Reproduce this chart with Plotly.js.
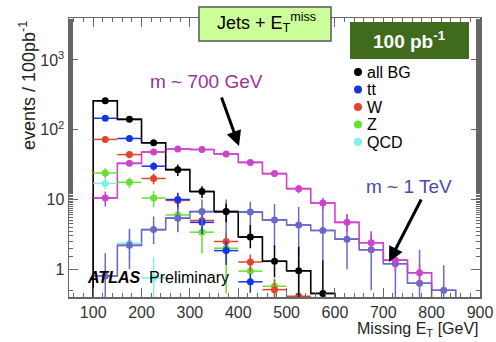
<!DOCTYPE html>
<html>
<head>
<meta charset="utf-8">
<script src="https://cdn.plot.ly/plotly-3.0.1.min.js"></script>
<style>html,body{margin:0;padding:0;background:#fff}#chart{width:496px;height:342px}</style>
</head>
<body>
<div id="chart"></div>
<script>
// ---- data ----
const binWidth = 50;
const binCenters = [125,175,225,275,325,375,425,475,525,575,625,675,725,775,825];

const allBG     = [260,141,65,26.8,13,6.7,2.9,1.3,0.95,0.45];
const allBGUp   = [15,10,5,5,2.5,2,1.4,0.9,1.15,0.9];
const allBGDown = [15,10,5,5,2.5,2,0.9,0.53,0.55,0.3];

const ttbar     = [146,75,30,10,4.7,1.85,0.66];
const ttbarErr  = [8,6,4,2.5,1.5,0.7,0.2];

const wjets     = [72.7,44,20,9.7,5,2.5,1.27,0.51,0.41];
const wjetsUp   = [6,5,3.5,2.5,1.3,0.7,0.35,0.2,0.94];
const wjetsDown = [6,5,3.5,2.5,1.3,0.7,0.35,0.2,0.4];

const zjets     = [24,17.6,10.5,6.0,3.4,2.0,0.94,0.57];
const zjetsErr  = [4,3,2.8,2.5,1.7,1.55,0.3,0.19];

const qcd       = [17,2.35,0.75];
const qcdUp     = [3,1.1,0.75];
const qcdDown   = [3,1.0,0.5];

const sig700     = [10.5,33,48,53,52,45,34,23.5,14.3,8.9,4.7,2.4,1.35,0.89];
const sig700Up   = [2.5,3,3,3,3,3,3,2.5,2,1.7,1.3,0.8,0.4,0.3];
const sig700Down = [2.6,3,3,3,3,3,3,2.5,2,1.8,1.2,0.7,0.4,0.25];

const sig1000     = [0.8,2.2,3.7,5.4,6.7,6.7,6.6,5.1,4.3,3.6,2.7,1.9,1.2,0.63,0.5];
const sig1000Up   = [0.9,1.6,2.0,2.5,3.3,3.3,2.7,3.5,3.5,4.3,3.5,1.6,0.6,1.27,0.64];
const sig1000Down = [0.5,1.2,1.4,2.0,2.6,3.9,3.3,3.0,2.8,2.25,1.7,1.4,0.8,0.6,0.45];

const legendNames = ['all BG','tt','W','Z','QCD'];
const xTickVals = [100,200,300,400,500,600,700,800,900];
const yTickVals = [1,10,100,1000];
const yTickText = ['1','10','10<sup>2</sup>','10<sup>3</sup>'];

// ---- styles ----
const C = {bg:'#000000', tt:'#1434e6', w:'#e0442c', z:'#66e033', qcd:'#7eeeee',
           s700:'#cc44cc', s1000:'#6a6ac4'};
const FONT = 'Liberation Sans, Arial, sans-serif';

function centers(n){ return binCenters.slice(0,n); }
function stepTrace(vals, color){
  const x=[], y=[], h=binWidth/2, cs=centers(vals.length), floor=0.01;
  x.push(cs[0]-h); y.push(floor);
  cs.forEach((c,i)=>{ x.push(c-h, c+h); y.push(vals[i], vals[i]); });
  x.push(cs[cs.length-1]+h); y.push(floor);
  return {x, y, type:'scatter', mode:'lines', line:{color, width:1.6}, showlegend:false, hoverinfo:'skip'};
}
function pts(vals, up, down, color, size){
  return {x:centers(vals.length), y:vals, type:'scatter', mode:'markers',
    marker:{color, size:size||7},
    error_y:{type:'data', symmetric:false, array:up, arrayminus:down, color, thickness:1.5, width:0},
    error_x:{type:'constant', value:binWidth/2, color, thickness:1.5, width:0},
    showlegend:false};
}

const traces = [
  stepTrace(sig1000, C.s1000),
  stepTrace(sig700, C.s700),
  stepTrace(allBG, C.bg),
  pts(qcd, qcdUp, qcdDown, C.qcd),
  pts(zjets, zjetsErr, zjetsErr, C.z),
  pts(wjets, wjetsUp, wjetsDown, C.w),
  pts(ttbar, ttbarErr, ttbarErr, C.tt),
  pts(sig1000, sig1000Up, sig1000Down, C.s1000),
  pts(sig700, sig700Up, sig700Down, C.s700),
  pts(allBG, allBGUp, allBGDown, C.bg),
];

// layout helpers: pixel -> paper
const L=69, R=480, T=18, B=297;
const px = v => (v-L)/(R-L);
const py = v => (B-v)/(B-T);

const legColors = [C.bg, C.tt, C.w, C.z, C.qcd];
const legRows = [72, 89.5, 107, 124.5, 142];

const shapes = [
  {type:'rect', xref:'paper', yref:'paper', x0:px(199), x1:px(331), y0:py(41), y1:py(7),
   fillcolor:'#ccff99', line:{color:'#555555', width:1.5}, layer:'above'},
  {type:'rect', xref:'paper', yref:'paper', x0:px(350), x1:px(469), y0:py(59), y1:py(22),
   fillcolor:'#416b1c', line:{width:0}, layer:'above'},
];
legRows.forEach((r,i)=>{
  shapes.push({type:'circle', xref:'paper', yref:'paper',
    x0:px(354), x1:px(362), y0:py(r+4), y1:py(r-4),
    fillcolor:legColors[i], line:{width:0}, layer:'above'});
});

function txt(text, x, y, size, color, opts){
  return Object.assign({text, xref:'paper', yref:'paper', x:px(x), y:py(y),
    xanchor:'center', yanchor:'middle', showarrow:false,
    font:{family:FONT, size, color}}, opts||{});
}

const annotations = [
  txt('Jets + E<sub>T</sub><sup>miss</sup>', 266, 23, 18, '#000'),
  txt('<b>100 pb<sup>-1</sup></b>', 409.5, 40, 19, '#ffffff'),
  txt('m ~ 700 GeV', 206, 81.7, 19, '#993399'),
  txt('m ~ 1 TeV', 408.5, 186.7, 19, '#4a4aa8'),
  {text:'', xref:'paper', yref:'paper', x:px(239), y:py(146), axref:'pixel', ayref:'pixel',
   ax:-18, ay:-50, showarrow:true, arrowhead:2, arrowsize:1, arrowwidth:3, arrowcolor:'#000'},
  {text:'', xref:'paper', yref:'paper', x:px(389), y:py(262), axref:'pixel', ayref:'pixel',
   ax:33, ay:-64, showarrow:true, arrowhead:2, arrowsize:1, arrowwidth:3, arrowcolor:'#000'},
  txt('<b><i>ATLAS</i></b>  Preliminary', 85, 277.3, 16, '#000', {xanchor:'left'}),
  txt('events / 100pb<sup>-1</sup>', 28, 86, 18, '#222', {textangle:-90}),
  txt('Missing E<sub>T</sub> [GeV]', 481, 329, 16, '#222', {xanchor:'right'}),
];
legendNames.forEach((n,i)=>{
  annotations.push(txt(n, 365, legRows[i], 16, '#000', {xanchor:'left'}));
});

const layout = {
  width:496, height:342,
  margin:{l:L, r:496-R, t:T, b:342-B},
  paper_bgcolor:'#ffffff', plot_bgcolor:'#ffffff',
  showlegend:false,
  xaxis:{range:[50,900], tickvals:xTickVals, ticks:'inside', ticklen:9, tickcolor:'#666',
    showline:true, linecolor:'#666', linewidth:1.5, mirror:'ticks', showgrid:false, zeroline:false,
    tickfont:{family:FONT, size:16, color:'#333'},
    minor:{dtick:20, ticks:'inside', ticklen:4, tickcolor:'#666', showgrid:false}},
  yaxis:{type:'log', range:[Math.log10(0.4), Math.log10(4000)], tickvals:yTickVals, ticktext:yTickText,
    ticks:'inside', ticklen:9, tickcolor:'#666',
    showline:true, linecolor:'#666', linewidth:1.5, mirror:'ticks', showgrid:false, zeroline:false,
    tickfont:{family:FONT, size:16, color:'#333'},
    minor:{ticks:'inside', ticklen:4, tickcolor:'#666', showgrid:false}},
  shapes, annotations
};

Plotly.newPlot('chart', traces, layout, {staticPlot:true, displayModeBar:false});
</script>
</body>
</html>
